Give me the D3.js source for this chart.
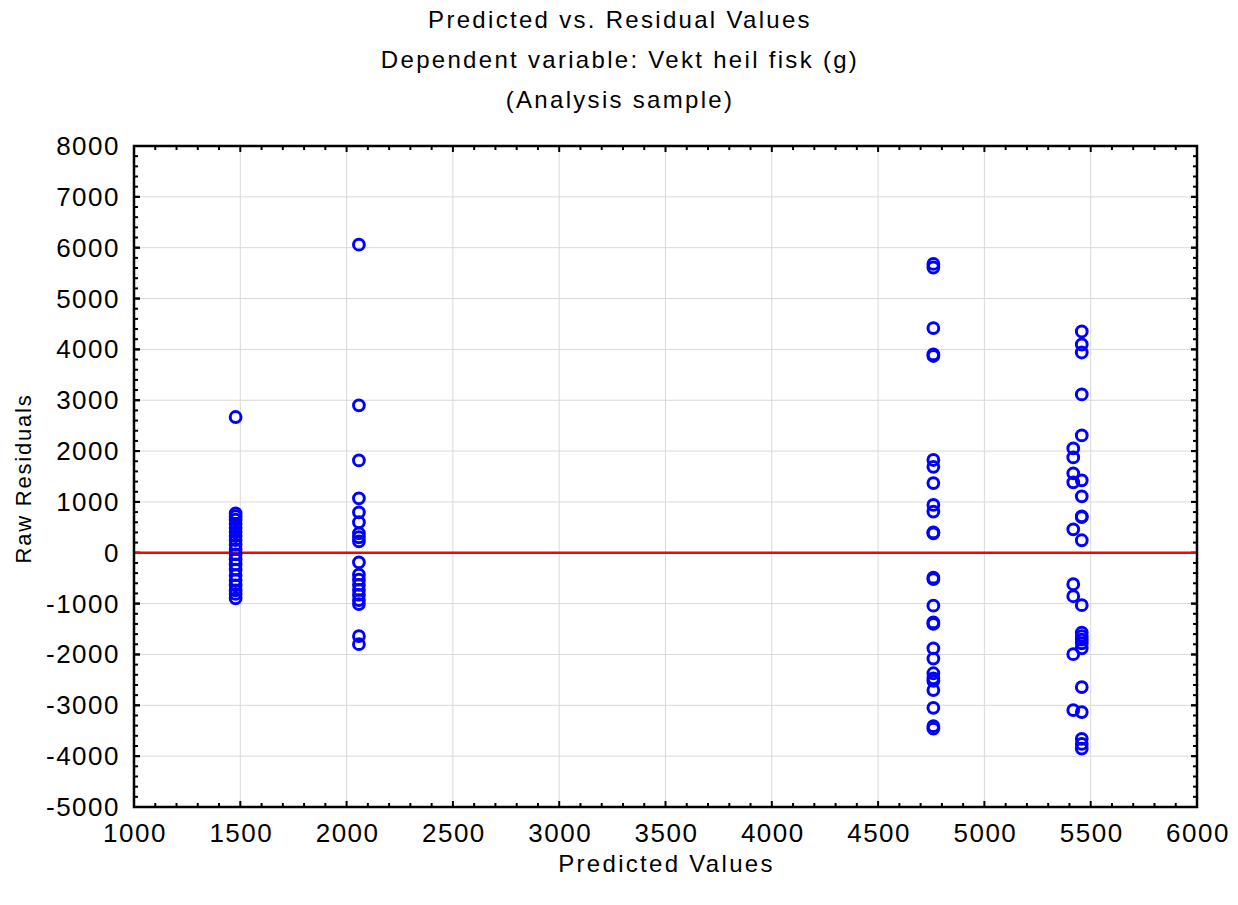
<!DOCTYPE html>
<html>
<head>
<meta charset="utf-8">
<script src="https://cdn.jsdelivr.net/npm/d3@7"></script>
<style>
  html, body { margin: 0; padding: 0; background: #fff; }
  svg { display: block; font-family: "Liberation Sans", Arial, sans-serif; }
</style>
</head>
<body>
<svg id="chart" width="1238" height="905"></svg>
<script>
// Predicted value of each fitted group and the raw residuals observed at it
const predictedA = 1478;
const residualsA = [2670, 776, 720, 650, 570, 490, 410, 330, 250, 160, 70, -30, -130, -230, -330, -440, -540, -640, -740, -810, -895];

const predictedB = 2058;
const residualsB = [6060, 2900, 1817, 1071, 796, 600, 383, 305, 226, -187, -430, -530, -630, -730, -830, -930, -1010, -1640, -1798];

const predictedC = 4760;
const residualsC = [5680, 5610, 4420, 3900, 3870, 1825, 1690, 1370, 940, 810, 400, 380, -490, -520, -1040, -1370, -1400, -1880, -2080, -2370, -2470, -2520, -2700, -3050, -3410, -3460];

const predictedD = 5458;
const residualsD = [4352, 4096, 3939, 3114, 2308, 1424, 1110, 717, 700, 246, -1031, -1570, -1640, -1710, -1780, -1880, -2642, -3134, -3660, -3760, -3850];

const predictedE = 5418;
const residualsE = [2053, 1876, 1562, 1385, 462, -619, -855, -1994, -3094];

const xTicks = [1000, 1500, 2000, 2500, 3000, 3500, 4000, 4500, 5000, 5500, 6000];
const yTicks = [8000, 7000, 6000, 5000, 4000, 3000, 2000, 1000, 0, -1000, -2000, -3000, -4000, -5000];

const titleLines = ["Predicted vs. Residual Values", "Dependent variable: Vekt heil fisk (g)", "(Analysis sample)"];
const xTitle = "Predicted Values";
const yTitle = "Raw Residuals";

const points = [
  ...residualsA.map(r => ({ x: predictedA, y: r })),
  ...residualsB.map(r => ({ x: predictedB, y: r })),
  ...residualsC.map(r => ({ x: predictedC, y: r })),
  ...residualsD.map(r => ({ x: predictedD, y: r })),
  ...residualsE.map(r => ({ x: predictedE, y: r }))
];

const m = { left: 134, right: 1197, top: 146, bottom: 807 };

const svg = d3.select("#chart");

const x = d3.scaleLinear().domain([1000, 6000]).range([m.left, m.right]);
const y = d3.scaleLinear().domain([-5000, 8000]).range([m.bottom, m.top]);

// grid
svg.append("g").selectAll("line").data(xTicks.slice(1, -1)).join("line")
  .attr("x1", d => x(d)).attr("x2", d => x(d))
  .attr("y1", m.top).attr("y2", m.bottom)
  .attr("stroke", "#d9d9d9").attr("stroke-width", 1);
svg.append("g").selectAll("line").data(yTicks.slice(1, -1)).join("line")
  .attr("x1", m.left).attr("x2", m.right)
  .attr("y1", d => y(d)).attr("y2", d => y(d))
  .attr("stroke", "#d9d9d9").attr("stroke-width", 1);

// minor and major ticks on all four sides, pointing inward
const xMinor = d3.range(1000, 6001, 100);
const yMinor = d3.range(-5000, 8001, 200);
const tickG = svg.append("g").attr("stroke", "#000").attr("stroke-width", 2);
xMinor.forEach(v => {
  const len = v % 500 === 0 ? 6 : 4;
  tickG.append("line").attr("x1", x(v)).attr("x2", x(v)).attr("y1", m.bottom).attr("y2", m.bottom - len);
  tickG.append("line").attr("x1", x(v)).attr("x2", x(v)).attr("y1", m.top).attr("y2", m.top + len);
});
yMinor.concat(yTicks).forEach(v => {
  const len = v % 1000 === 0 ? 6 : 4;
  tickG.append("line").attr("y1", y(v)).attr("y2", y(v)).attr("x1", m.left).attr("x2", m.left + len);
  tickG.append("line").attr("y1", y(v)).attr("y2", y(v)).attr("x1", m.right).attr("x2", m.right - len);
});

// zero reference line
svg.append("line")
  .attr("x1", m.left).attr("x2", m.right)
  .attr("y1", y(0)).attr("y2", y(0))
  .attr("stroke", "#ff0000").attr("stroke-width", 2.5);

// residual markers
svg.append("g").selectAll("circle").data(points).join("circle")
  .attr("cx", d => x(d.x)).attr("cy", d => y(d.y)).attr("r", 5.4)
  .attr("fill", "none").attr("stroke", "#0000ff").attr("stroke-width", 3);

// frame
svg.append("rect")
  .attr("x", m.left).attr("y", m.top)
  .attr("width", m.right - m.left).attr("height", m.bottom - m.top)
  .attr("fill", "none").attr("stroke", "#000").attr("stroke-width", 2.5);

// tick labels
svg.append("g").selectAll("text").data(xTicks).join("text")
  .attr("x", d => x(d) + 1).attr("y", 842)
  .attr("text-anchor", "middle")
  .attr("font-size", 26).attr("letter-spacing", 1.5)
  .text(d => d);
svg.append("g").selectAll("text").data(yTicks).join("text")
  .attr("x", 120).attr("y", d => y(d) + 9)
  .attr("text-anchor", "end")
  .attr("font-size", 26).attr("letter-spacing", 1.5)
  .text(d => d);

// titles
svg.append("g").selectAll("text").data(titleLines).join("text")
  .attr("x", 620).attr("y", (d, i) => 28 + i * 40)
  .attr("text-anchor", "middle")
  .attr("font-size", 24).attr("letter-spacing", 2.3)
  .text(d => d);

svg.append("text")
  .attr("x", x(3500) + 1).attr("y", 872)
  .attr("text-anchor", "middle")
  .attr("font-size", 24).attr("letter-spacing", 2.3)
  .text(xTitle);

svg.append("text")
  .attr("transform", `translate(31, ${(m.top + m.bottom) / 2 + 2}) rotate(-90)`)
  .attr("text-anchor", "middle")
  .attr("font-size", 22).attr("letter-spacing", 1.8)
  .text(yTitle);
</script>
</body>
</html>
